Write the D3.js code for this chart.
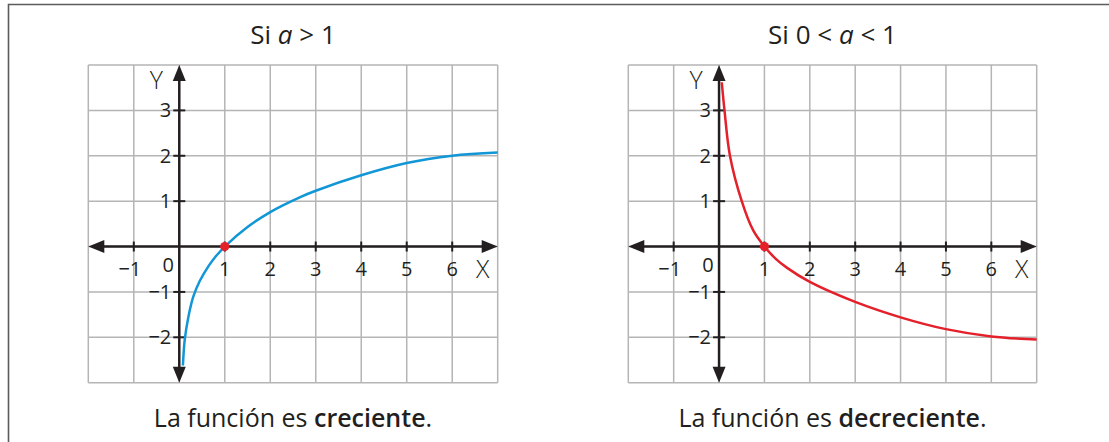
<!DOCTYPE html>
<html>
<head>
<meta charset="utf-8">
<script src="https://cdn.jsdelivr.net/npm/d3@7"></script>
<style>
  html, body { margin: 0; padding: 0; background: #fff; }
  svg { display: block; }
  text { font-family: "Open Sans", "Noto Sans", sans-serif; fill: #231f20; }
</style>
</head>
<body>
<svg id="chart" width="1109" height="442"></svg>
<script>
// ---- data ----
const xTickValues = [-1, 0, 1, 2, 3, 4, 5, 6];
const yTickValues = [-2, -1, 1, 2, 3];
const xTickLabels = ["\u22121", "0", "1", "2", "3", "4", "5", "6"];
const yTickLabels = ["\u22122", "\u22121", "1", "2", "3"];
const gridX = [-2, -1, 0, 1, 2, 3, 4, 5, 6, 7];
const gridY = [-3, -2, -1, 0, 1, 2, 3, 4];

const blueX = [0.08, 0.12, 0.2, 0.31, 0.45, 0.65, 0.8, 1, 1.5, 2, 2.66, 3, 4, 5, 6, 7];
const blueY = [-2.62, -2.05, -1.55, -1.1, -0.76, -0.42, -0.22, 0, 0.43, 0.76, 1.09, 1.23, 1.57, 1.84, 2.0, 2.07];
const redX = [0.06, 0.12, 0.24, 0.5, 0.75, 1, 1.25, 1.5, 2, 3, 4, 5, 6, 7];
const redY = [3.62, 3.0, 2.0, 1.0, 0.36, 0, -0.27, -0.47, -0.78, -1.22, -1.56, -1.82, -1.98, -2.05];
const pointX = [1];
const pointY = [0];

const panels = [
  { title: ["Si ", "a", " > 1"], caption: ["La función es ", "creciente", "."],
    xs: blueX, ys: blueY, color: "#1196d6", left: 88.3, right: 497.7 },
  { title: ["Si 0 < ", "a", " < 1"], caption: ["La función es ", "decreciente", "."],
    xs: redX, ys: redY, color: "#e4202a", left: 628.3, right: 1036.7 }
];

const svg = d3.select("#chart");
const gTop = 65, gBottom = 382.7;
const axisColor = "#231f20";

// frame
svg.append("path")
  .attr("d", "M8.5,442 L8.5,4.5 L1109,4.5")
  .attr("fill", "none").attr("stroke", "#5b5b5b").attr("stroke-width", 1.6);

panels.forEach(p => {
  const x = d3.scaleLinear().domain([-2, 7]).range([p.left, p.right]);
  const y = d3.scaleLinear().domain([-3, 4]).range([gBottom, gTop]);
  const g = svg.append("g");

  // grid
  g.selectAll(".gx").data(gridX).join("line")
    .attr("x1", d => x(d)).attr("x2", d => x(d))
    .attr("y1", gTop).attr("y2", gBottom)
    .attr("stroke", "#b5b5b5").attr("stroke-width", 1.5);
  g.selectAll(".gy").data(gridY).join("line")
    .attr("y1", d => y(d)).attr("y2", d => y(d))
    .attr("x1", p.left).attr("x2", p.right)
    .attr("stroke", "#b5b5b5").attr("stroke-width", 1.5);

  // axes lines
  const x0 = x(0), y0 = y(0);
  const ah = 16, aw = 6.5;
  g.append("line").attr("x1", p.left + ah - 2).attr("x2", p.right - ah + 2)
    .attr("y1", y0).attr("y2", y0).attr("stroke", axisColor).attr("stroke-width", 2.5);
  g.append("line").attr("x1", x0).attr("x2", x0)
    .attr("y1", gTop + ah - 2).attr("y2", gBottom - ah + 2).attr("stroke", axisColor).attr("stroke-width", 2.5);
  // arrowheads
  const arrows = [
    [[p.left, y0], [p.left + ah, y0 - aw], [p.left + ah, y0 + aw]],
    [[p.right, y0], [p.right - ah, y0 - aw], [p.right - ah, y0 + aw]],
    [[x0, gTop], [x0 - aw, gTop + ah], [x0 + aw, gTop + ah]],
    [[x0, gBottom], [x0 - aw, gBottom - ah], [x0 + aw, gBottom - ah]]
  ];
  g.selectAll(".arr").data(arrows).join("path")
    .attr("d", d => "M" + d.map(q => q.join(",")).join("L") + "Z")
    .attr("fill", axisColor);

  // ticks
  g.selectAll(".xt").data(xTickValues.filter(v => v !== 0)).join("line")
    .attr("x1", d => x(d)).attr("x2", d => x(d))
    .attr("y1", y0 - 5).attr("y2", y0 + 5)
    .attr("stroke", axisColor).attr("stroke-width", 2);
  g.selectAll(".yt").data(yTickValues).join("line")
    .attr("y1", d => y(d)).attr("y2", d => y(d))
    .attr("x1", x0 - 6).attr("x2", x0 + 6)
    .attr("stroke", axisColor).attr("stroke-width", 2);

  // tick labels
  g.selectAll(".xl").data(xTickValues).join("text")
    .attr("x", (d) => d < 0 ? x(d) + 7.5 : (d === 0 ? x(d) - 11 : x(d)))
    .attr("y", d => d === 0 ? y0 + 25 : y0 + 29.5)
    .attr("text-anchor", d => d < 0 ? "end" : "middle")
    .attr("font-size", 20)
    .text((d, i) => xTickLabels[i]);
  g.selectAll(".yl").data(yTickValues).join("text")
    .attr("x", x0 - 8)
    .attr("y", d => y(d) + 7)
    .attr("text-anchor", "end")
    .attr("font-size", 20)
    .text((d, i) => yTickLabels[i]);

  // axis names
  g.append("text").attr("x", x0 - 23).attr("y", gTop + 24)
    .attr("text-anchor", "middle").attr("font-size", 25).attr("font-weight", 300).text("Y");
  g.append("text").attr("x", p.right - 15).attr("y", y0 + 31)
    .attr("text-anchor", "middle").attr("font-size", 25).attr("font-weight", 300).text("X");

  // curve
  const pts = p.xs.map((v, i) => [v, p.ys[i]]);
  g.append("path").datum(pts)
    .attr("d", d3.line().x(d => x(d[0])).y(d => y(d[1])).curve(d3.curveCatmullRom.alpha(0.5)))
    .attr("fill", "none").attr("stroke", p.color).attr("stroke-width", 2.5);

  // point
  g.selectAll(".pt").data(pointX).join("circle")
    .attr("cx", d => x(d)).attr("cy", (d, i) => y(pointY[i]))
    .attr("r", 4.6).attr("fill", "#e4202a");

  // title
  const cx = (p.left + p.right) / 2;
  const t = g.append("text").attr("x", cx).attr("y", 44)
    .attr("text-anchor", "middle").attr("font-size", 26);
  t.append("tspan").text(p.title[0]);
  t.append("tspan").attr("font-style", "italic").text(p.title[1]);
  t.append("tspan").text(p.title[2]);

  // caption
  const c = g.append("text").attr("x", cx).attr("y", 427)
    .attr("text-anchor", "middle").attr("font-size", 25);
  c.append("tspan").text(p.caption[0]);
  c.append("tspan").attr("font-weight", 600).text(p.caption[1]);
  c.append("tspan").text(p.caption[2]);
});
</script>
</body>
</html>
